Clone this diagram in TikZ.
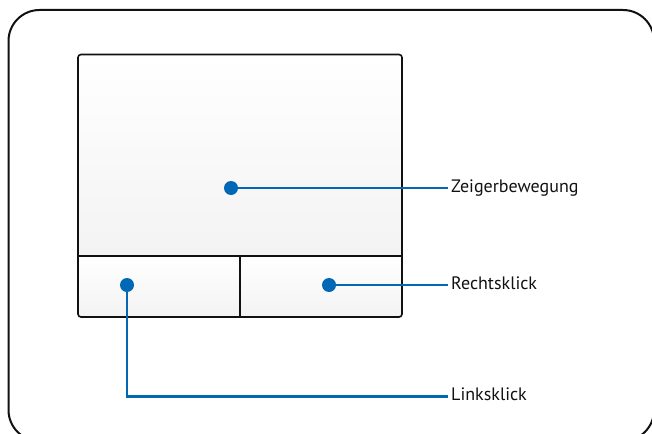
\documentclass[tikz,border=0pt]{standalone}
\usepackage{fontspec}
\setmainfont{PT Sans}
\usepackage{tikz}
\usetikzlibrary{positioning}
\definecolor{PointerBlue}{HTML}{0068B4}
\definecolor{FrameBlack}{HTML}{111111}
\definecolor{PadShade}{HTML}{F3F3F3}

\begin{document}
\begin{tikzpicture}[
    x=1pt,y=-1pt,
    font=\fontsize{18}{20}\selectfont,
    frame/.style={draw=FrameBlack,line width=2pt,rounded corners=31pt},
    padline/.style={draw=FrameBlack,line width=1.6pt},
    padfill/.style={top color=white,middle color=white,bottom color=PadShade,draw=none},
    spot/.style={circle,fill=PointerBlue,inner sep=0pt,minimum size=14pt},
    lead/.style={draw=PointerBlue,line width=2.6pt},
    callout/.style={anchor=west,inner xsep=3pt,inner ysep=0pt,
      text height=12pt,text depth=4pt,text=FrameBlack}
  ]
    \useasboundingbox (0,0) rectangle (652,433);

    % Outer housing, cut by the page edge.
    \draw[frame] (8.5,10) rectangle (654,441);

    % Touchpad surface and buttons.
    \coordinate (padNW) at (78,54.5);
    \coordinate (padSE) at (402,317);
    \coordinate (splitW) at (78,256);
    \coordinate (splitE) at (402,256);
    \coordinate (splitM) at (240,256);
    \coordinate (splitB) at (240,317);
    \fill[padfill] (padNW) rectangle (splitE);
    \fill[padfill] (splitW) rectangle (splitB);
    \fill[padfill] (splitM) rectangle (padSE);
    \draw[padline,rounded corners=3pt] (padNW) rectangle (padSE);
    \draw[padline] (splitW) -- (splitE);
    \draw[padline] (splitM) -- (splitB);

    % Callout points.
    \node[spot] (moveDot) at (231,188) {};
    \node[spot] (leftDot) at (127,285) {};
    \node[spot] (rightDot) at (329,285) {};

    % Callout texts.
    \node[callout] (moveLabel) at (448,188) {Zeigerbewegung};
    \node[callout] (rightLabel) at (448,285) {Rechtsklick};
    \node[callout] (leftLabel) at (448,396.5) {Linksklick};

    \draw[lead] (moveDot.center) -- (moveLabel.west);
    \draw[lead] (rightDot.center) -- (rightLabel.west);
    \draw[lead] (leftDot.center) |- (leftLabel.west);
  \end{tikzpicture}
\end{document}
